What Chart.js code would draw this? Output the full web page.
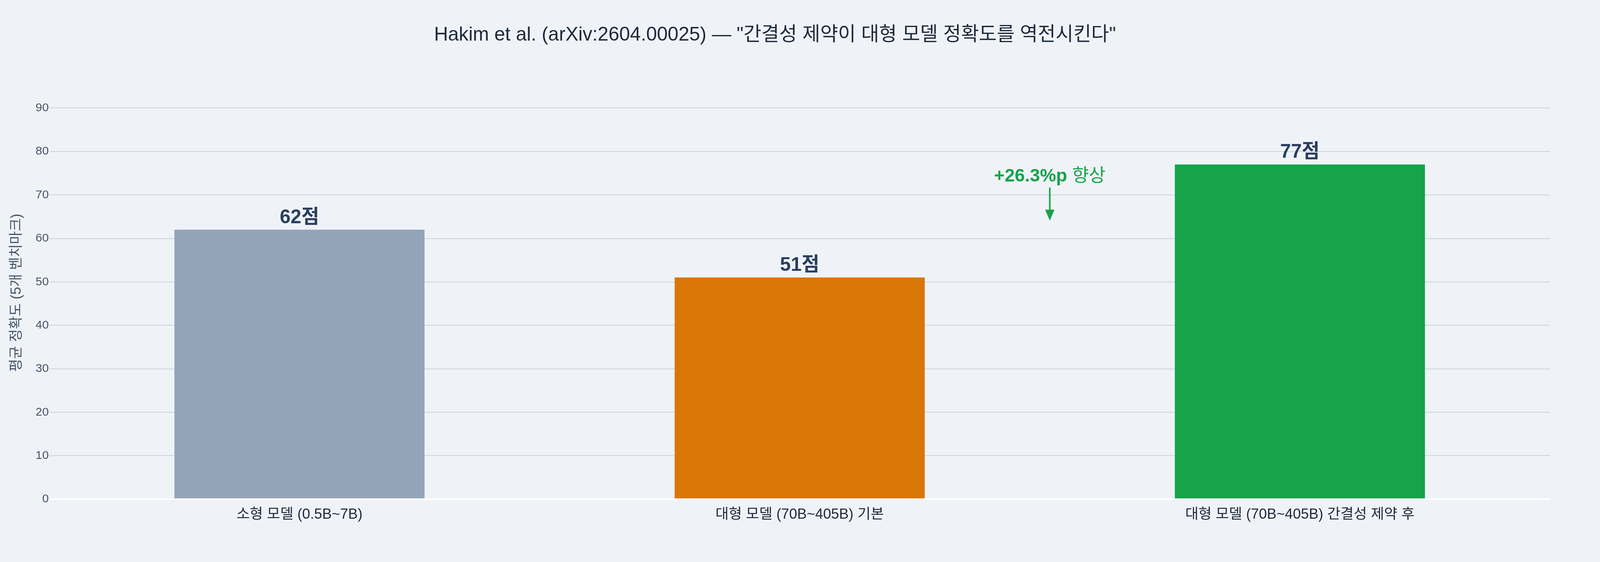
<!DOCTYPE html>
<html lang="ko">
<head>
<meta charset="utf-8">
<title>간결성 제약 정확도</title>
<script src="https://cdn.jsdelivr.net/npm/chart.js@4/dist/chart.umd.min.js"></script>
<style>
  html, body { margin: 0; padding: 0; background: #eff3f8; overflow: hidden; }
  #wrap { width: 100vw; height: 100vh; position: relative; }
</style>
</head>
<body>
<div id="wrap"><canvas id="chart"></canvas></div>
<script>
'use strict';

// ── Data ──────────────────────────────────────────────────────────────────────

const categories = [
  '소형 모델 (0.5B~7B)',
  '대형 모델 (70B~405B) 기본',
  '대형 모델 (70B~405B) 간결성 제약 후',
];
const scores = [62, 51, 77];
const barColors = ['#94a3b8', '#d97706', '#16a34a'];
const valueSuffix = '점';

const yTicks = [0, 10, 20, 30, 40, 50, 60, 70, 80, 90];
const yRange = [0, 95];

const chartTitle = 'Hakim et al. (arXiv:2604.00025) — "간결성 제약이 대형 모델 정확도를 역전시킨다"';
const yTitle = '평균 정확도 (5개 벤치마크)';

// annotation: text + arrow pointing down between bar 2 and bar 3
const noteBold = '+26.3%p';
const noteText = ' 향상';
const noteX = 1.5;        // category position
const noteTextY = 73.1;   // baseline of the text, in score units
const noteTailY = 71.7;   // arrow start
const noteTipY = 64.1;    // arrow tip

// ── Style ─────────────────────────────────────────────────────────────────────

// layout was measured on a 5120x1440 picture; scale to the actual viewport
const SX = window.innerWidth / 5120;
const SY = window.innerHeight / 1440;
const px = n => n * SX;   // horizontal sizes and fonts
const py = n => n * SY;   // vertical offsets

const FONT = '"Liberation Sans", Arial, "Noto Sans CJK KR", sans-serif';
const INK = '#1e293b';
const MUTED = '#475569';
const LABEL = '#2a3f5f';
const GREEN = '#16a34a';

const TITLE_SIZE = px(62);
const TITLE_TOP = py(90) - TITLE_SIZE * 0.6;
const PLOT_TOP = py(221);

Chart.defaults.font.family = FONT;

// ── Plugins ───────────────────────────────────────────────────────────────────

const valueLabels = {
  id: 'valueLabels',
  afterDatasetsDraw(chart) {
    const { ctx } = chart;
    const meta = chart.getDatasetMeta(0);
    ctx.save();
    ctx.font = `bold ${px(62)}px ${FONT}`;
    ctx.fillStyle = LABEL;
    ctx.textAlign = 'center';
    ctx.textBaseline = 'alphabetic';
    meta.data.forEach((bar, i) => {
      ctx.fillText(scores[i] + valueSuffix, bar.x, bar.y - py(17));
    });
    ctx.restore();
  },
};

const arrowNote = {
  id: 'arrowNote',
  afterDatasetsDraw(chart) {
    const { ctx, scales: { x, y } } = chart;
    const cx = x.getPixelForValue(noteX);
    const textY = y.getPixelForValue(noteTextY);
    const tailY = y.getPixelForValue(noteTailY);
    const tipY = y.getPixelForValue(noteTipY);

    ctx.save();
    ctx.fillStyle = GREEN;
    ctx.textBaseline = 'alphabetic';
    ctx.textAlign = 'left';
    const boldFont = `bold ${px(58)}px ${FONT}`;
    const normFont = `${px(58)}px ${FONT}`;
    ctx.font = boldFont;
    const wBold = ctx.measureText(noteBold).width;
    ctx.font = normFont;
    const wText = ctx.measureText(noteText).width;
    const startX = cx - (wBold + wText) / 2;
    ctx.font = boldFont;
    ctx.fillText(noteBold, startX, textY);
    ctx.font = normFont;
    ctx.fillText(noteText, startX + wBold, textY);

    // arrow
    const headH = py(28), headW = px(30);
    ctx.strokeStyle = GREEN;
    ctx.lineWidth = px(5);
    ctx.beginPath();
    ctx.moveTo(cx, tailY);
    ctx.lineTo(cx, tipY - headH + py(2));
    ctx.stroke();
    ctx.beginPath();
    ctx.moveTo(cx, tipY);
    ctx.lineTo(cx - headW / 2, tipY - headH);
    ctx.lineTo(cx + headW / 2, tipY - headH);
    ctx.closePath();
    ctx.fill();
    ctx.restore();
  },
};

// ── Chart ─────────────────────────────────────────────────────────────────────

new Chart(document.getElementById('chart'), {
  type: 'bar',
  data: {
    labels: categories,
    datasets: [{
      data: scores,
      backgroundColor: barColors,
      borderWidth: 0,
      barPercentage: 0.5,
      categoryPercentage: 1,
    }],
  },
  plugins: [valueLabels, arrowNote],
  options: {
    responsive: true,
    maintainAspectRatio: false,
    animation: false,
    layout: { padding: { left: 0, right: px(160), top: 0, bottom: 0 } },
    plugins: {
      legend: { display: false },
      tooltip: { enabled: false },
      title: {
        display: true,
        text: chartTitle,
        color: INK,
        font: { size: TITLE_SIZE, weight: 'normal', family: FONT, lineHeight: 1.2 },
        padding: { top: TITLE_TOP, bottom: PLOT_TOP - TITLE_TOP - TITLE_SIZE * 1.2 },
      },
    },
    scales: {
      x: {
        grid: { display: false },
        border: { display: false },
        ticks: {
          color: INK,
          font: { size: px(46) },
          padding: py(10),
          maxRotation: 0,
          autoSkip: false,
        },
        afterFit(scale) { scale.height = py(161); },
      },
      y: {
        min: yRange[0],
        max: yRange[1],
        border: { display: false },
        grid: {
          drawTicks: false,
          color: ctx => (ctx.tick && ctx.tick.value === 0 ? '#ffffff' : '#d3d8df'),
          lineWidth: ctx => (ctx.tick && ctx.tick.value === 0 ? py(4) : py(2.5)),
        },
        afterBuildTicks(scale) {
          scale.ticks = yTicks.map(v => ({ value: v }));
        },
        ticks: {
          color: MUTED,
          font: { size: px(38) },
          padding: px(2),
        },
        title: {
          display: true,
          text: yTitle,
          color: MUTED,
          font: { size: px(45) },
          padding: { top: px(27), bottom: 0 },
        },
        afterFit(scale) { scale.width = px(158); },
      },
    },
  },
});
</script>
</body>
</html>
